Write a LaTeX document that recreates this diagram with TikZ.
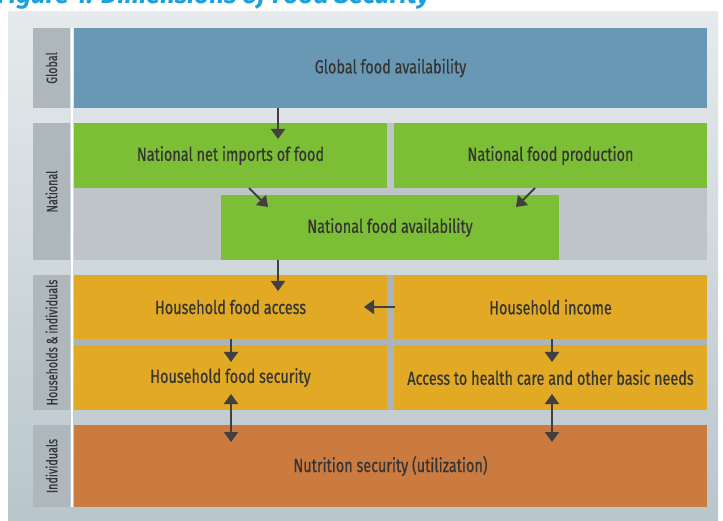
\documentclass[tikz,border=0pt]{standalone}
\usepackage{fontspec}
\setmainfont{Fira Sans}[FakeStretch=0.76, FakeBold=0.5]
\newfontfamily\labfont{Fira Sans}[FakeStretch=0.72, FakeBold=0.4]
\newfontfamily\titlefont{Fira Sans}[BoldItalicFont={Fira Sans Bold Italic}]
\usetikzlibrary{arrows.meta,calc}
\definecolor{cblue}{HTML}{6898B4}
\definecolor{cgreen}{HTML}{7DBE37}
\definecolor{cyel}{HTML}{E2A925}
\definecolor{corange}{HTML}{CB7A40}
\definecolor{cgrayarea}{HTML}{BEC4C7}
\definecolor{chhgap}{HTML}{AAB5B9}
\definecolor{clabel}{HTML}{AEB7BB}
\definecolor{ctext}{HTML}{353535}
\definecolor{carrow}{HTML}{404040}
\definecolor{ctitle}{HTML}{1BA1DB}
\definecolor{bgtop}{HTML}{E6EAEC}
\definecolor{bgbot}{HTML}{B8C6CB}
\tikzset{
  box/.style={draw=none, inner sep=0pt, text=ctext, font=\fontsize{19}{22}\selectfont, align=center},
  lab/.style={fill=clabel, inner sep=0pt},
  labtext/.style={rotate=90, text=ctext, font=\labfont\fontsize{15}{17}\selectfont},
  arr/.style={draw=carrow, line width=2pt, -{Triangle[width=14pt,length=10pt]}},
  darr/.style={draw=carrow, line width=2pt, {Triangle[width=14pt,length=10pt]}-{Triangle[width=14pt,length=10pt]}},
}
\begin{document}
\begin{tikzpicture}[x=1pt,y=-1pt]
\useasboundingbox (0,0) rectangle (723,521);
\fill[white] (0,0) rectangle (723,521);
% title (cut off at top)
\node[anchor=base west, inner sep=0pt, text=ctitle, font=\titlefont\bfseries\itshape\fontsize{26}{28}\selectfont] (title) at (-3,4) {Figure 1: Dimensions of Food Security};
% background panel
\shade[top color=bgtop, bottom color=bgbot] (8,12) rectangle (718,521);
% left labels
\node[lab, minimum width=37pt, minimum height=80pt] (lglob) at (51.5,68) {};
\node[labtext] at (lglob) {Global};
\node[lab, minimum width=37pt, minimum height=137pt] (lnat) at (51.5,191.5) {};
\node[labtext] at (lnat) {National};
\node[lab, minimum width=37pt, minimum height=135pt] (lhh) at (51.5,342.5) {};
\node[labtext] at (lhh) {Households \& individuals};
\node[lab, minimum width=37pt, minimum height=82pt] (lind) at (51.5,466) {};
\node[labtext] at (lind) {Individuals};
% white separator line
\draw[white, line width=1.2pt] (72,28) -- (72,507);
% band backgrounds
\fill[cgrayarea] (74,123) rectangle (707,260);
\fill[chhgap] (74,275) rectangle (707,410);
% boxes
\node[box, fill=cblue, minimum width=633pt, minimum height=80pt] (glob) at (390.5,68) {Global food availability};
\node[box, fill=cgreen, minimum width=313pt, minimum height=65pt] (imp) at (230.5,155.5) {National net imports of food};
\node[box, fill=cgreen, minimum width=313pt, minimum height=65pt] (prod) at (550.5,155.5) {National food production};
\node[box, fill=cgreen, minimum width=338pt, minimum height=65pt] (nfa) at (390,227.5) {National food availability};
\node[box, fill=cyel, minimum width=313pt, minimum height=64pt] (hfa) at (230.5,307) {Household food access};
\node[box, fill=cyel, minimum width=313pt, minimum height=64pt] (hinc) at (550.5,307) {Household income};
\node[box, fill=cyel, minimum width=313pt, minimum height=65pt] (hfs) at (230.5,377.5) {Household food security};
\node[box, fill=cyel, minimum width=313pt, minimum height=65pt] (acc) at (550.5,377.5) {Access to health care and other basic needs};
\node[box, fill=corange, minimum width=633pt, minimum height=82pt] (nut) at (390.5,466) {Nutrition security (utilization)};
% arrow end points
\coordinate (t1) at (278,139);
\coordinate (s2) at (249,188); \coordinate (t2) at (268,207);
\coordinate (s3) at (535,188); \coordinate (t3) at (516,207);
\coordinate (t4) at (278,291);
\coordinate (t5) at (364,307);
\coordinate (t6) at (231,362);
\coordinate (t7) at (552,362);
\coordinate (a8) at (231,394); \coordinate (b8) at (231,442);
\coordinate (a9) at (552,394); \coordinate (b9) at (552,442);
% arrows
\draw[arr] (glob.south -| t1) -- (t1);
\draw[arr] (s2) -- (t2);
\draw[arr] (s3) -- (t3);
\draw[arr] (nfa.south -| t4) -- (t4);
\draw[arr] (hinc.west |- t5) ++(1,0) -- (t5);
\draw[arr] (hfa.south -| t6) -- (t6);
\draw[arr] (hinc.south -| t7) -- (t7);
\draw[darr] (a8) -- (b8);
\draw[darr] (a9) -- (b9);
\end{tikzpicture}
\end{document}
